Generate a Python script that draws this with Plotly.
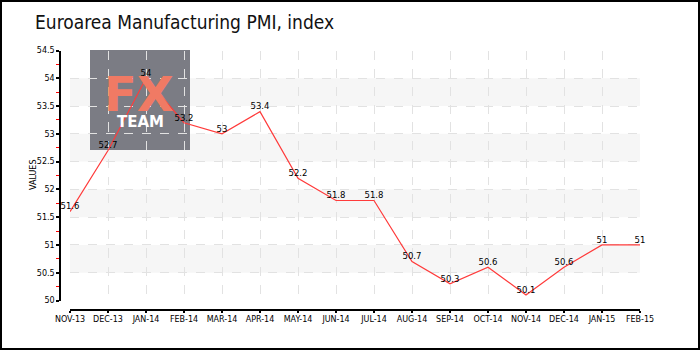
import plotly.graph_objects as go

months = ["NOV-13", "DEC-13", "JAN-14", "FEB-14", "MAR-14", "APR-14", "MAY-14", "JUN-14",
          "JUL-14", "AUG-14", "SEP-14", "OCT-14", "NOV-14", "DEC-14", "JAN-15", "FEB-15"]
pmi = [51.6, 52.7, 54.0, 53.2, 53.0, 53.4, 52.2, 51.8, 51.8, 50.7, 50.3, 50.6, 50.1, 50.6, 51.0, 51.0]
labels = ["51.6", "52.7", "54", "53.2", "53", "53.4", "52.2", "51.8", "51.8", "50.7",
          "50.3", "50.6", "50.1", "50.6", "51", "51"]
bands = [(50.5, 51.0), (51.5, 52.0), (52.5, 53.0), (53.5, 54.0)]

W, H = 700, 350
def px(x):
    return x / W
def py(y):
    return 1 - y / H

small = dict(family="DejaVu Sans, sans-serif", size=8, color="#000000")

fig = go.Figure()
fig.add_trace(go.Scatter(
    x=months, y=pmi, text=labels, mode="lines+text",
    textposition="top center", textfont=dict(family="DejaVu Sans, sans-serif", size=8.5, color="#000"),
    line=dict(color="#ff3b3b", width=1.2), hoverinfo="x+y", showlegend=False,
    cliponaxis=False,
))

shapes = []
for y0, y1 in bands:
    shapes.append(dict(type="rect", xref="x domain", yref="y", x0=0, x1=1, y0=y0, y1=y1,
                       fillcolor="#f6f6f6", line=dict(width=0), layer="below"))
# logo box
shapes.append(dict(type="rect", xref="paper", yref="paper", x0=px(90), x1=px(190), y0=py(150), y1=py(50),
                   fillcolor="#7b7c84", line=dict(width=0), layer="below"))
# outer border
shapes.append(dict(type="rect", xref="paper", yref="paper", x0=px(1), x1=px(699), y0=py(349), y1=py(1),
                   line=dict(color="#000", width=2), fillcolor="rgba(0,0,0,0)", layer="above"))

annotations = [
    dict(text="Euroarea Manufacturing PMI, index", x=px(33), y=py(22), xref="paper", yref="paper",
         xanchor="left", yanchor="middle", showarrow=False,
         font=dict(family="Liberation Sans Narrow, DejaVu Sans Condensed, sans-serif", size=19, color="#111")),
    dict(text="VALUES", x=px(33), y=py(175), xref="paper", yref="paper", textangle=-90,
         xanchor="center", yanchor="middle", showarrow=False, font=small),
    dict(text="<b>FX</b>", x=px(139), y=py(94), xref="paper", yref="paper", xanchor="center", yanchor="middle",
         showarrow=False, font=dict(family="DejaVu Sans, sans-serif", size=48, color="#f07a64")),
    dict(text="<b>TEAM</b>", x=px(140), y=py(122), xref="paper", yref="paper", xanchor="center", yanchor="middle",
         showarrow=False, font=dict(family="DejaVu Sans, sans-serif", size=15, color="#ffffff")),
]

fig.update_layout(
    template="none",
    width=W, height=H, autosize=False,
    margin=dict(l=0, r=0, t=0, b=0, pad=0),
    paper_bgcolor="#ffffff", plot_bgcolor="#ffffff",
    shapes=shapes, annotations=annotations,
    xaxis=dict(
        type="category", range=[0, 15], domain=[px(70), px(640)],
        anchor="free", position=py(310), automargin=False,
        showline=True, linecolor="#000", linewidth=1.5,
        ticks="outside", ticklen=2, tickcolor="#000", tickwidth=1.5,
        showgrid=True, gridcolor="#e2e2e2", griddash="dash", gridwidth=1,
        tickfont=small, zeroline=False, fixedrange=True,
    ),
    yaxis=dict(
        range=[50, 54.5], domain=[py(300.5), py(50.5)], dtick=0.5, tick0=50,
        anchor="free", position=px(60), automargin=False,
        showline=True, linecolor="#000", linewidth=1.5,
        ticks="outside", ticklen=3, tickcolor="#000", tickwidth=1.5,
        minor=dict(dtick=0.25, ticks="outside", ticklen=3, tickcolor="#ff0000", tickwidth=1, showgrid=False),
        showgrid=True, gridcolor="#e2e2e2", griddash="dash", gridwidth=1,
        tickfont=small, zeroline=False, fixedrange=True,
    ),
)

fig.write_html("out.html")
